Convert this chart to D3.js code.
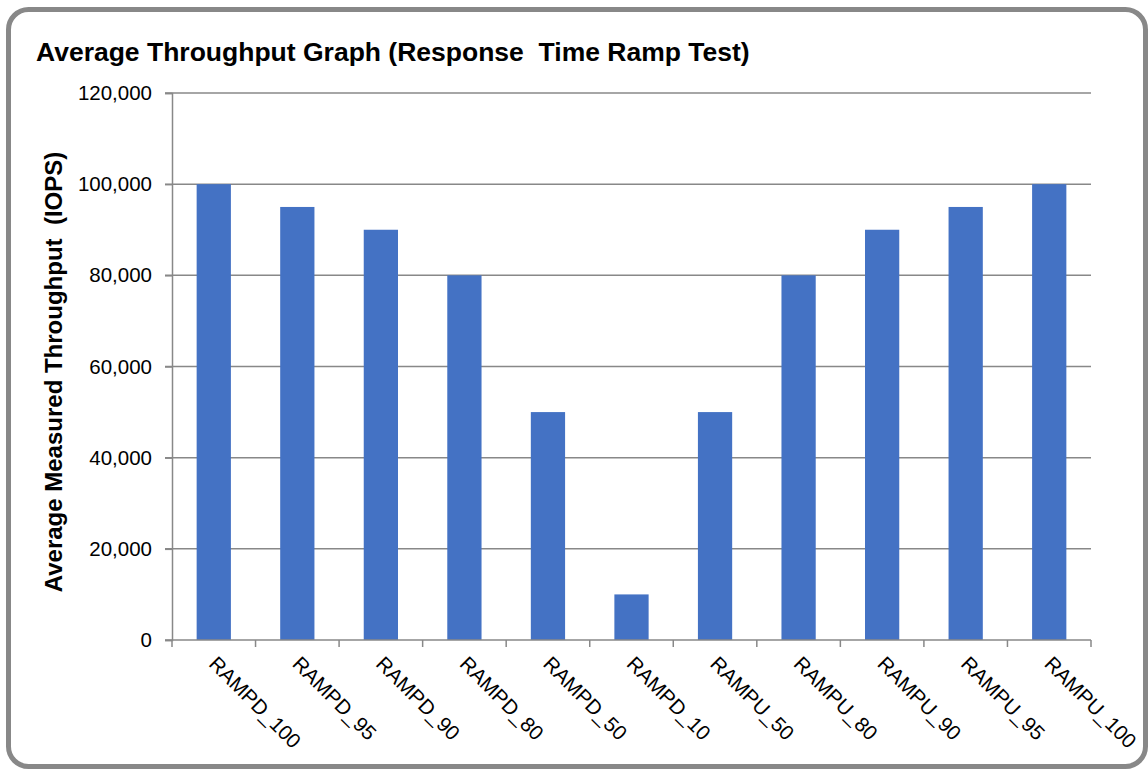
<!DOCTYPE html>
<html><head><meta charset="utf-8">
<script src="https://cdn.jsdelivr.net/npm/d3@7"></script>
<style>body{margin:0;background:#fff}svg{display:block;font-family:"Liberation Sans",Arial,sans-serif}</style>
</head><body>
<svg id="c" width="1148" height="769"></svg>
<script>
const categories = ["RAMPD_100","RAMPD_95","RAMPD_90","RAMPD_80","RAMPD_50","RAMPD_10","RAMPU_50","RAMPU_80","RAMPU_90","RAMPU_95","RAMPU_100"];
const throughput = [100000,95000,90000,80000,50000,10000,50000,80000,90000,95000,100000];
const yTicks = [0,20000,40000,60000,80000,100000,120000];
const title = "Average Throughput Graph (Response  Time Ramp Test)";
const yTitle = "Average Measured Throughput  (IOPS)";

const svg = d3.select("#c");
const m = {left:172, right:1091, top:93, bottom:640};

svg.append("rect").attr("x",8.5).attr("y",9.5).attr("width",1137).attr("height",757)
  .attr("rx",20).attr("fill","#fff").attr("stroke","#888").attr("stroke-width",5);

svg.append("text").attr("x",36).attr("y",61).attr("font-size",26.5).attr("font-weight","bold")
  .attr("fill","#000").style("white-space","pre").text(title);

const x = d3.scaleBand().domain(categories).range([m.left,m.right]).paddingInner(0.59).paddingOuter(0.295);
const y = d3.scaleLinear().domain([0,120000]).range([m.bottom,m.top]);

// gridlines
svg.append("g").selectAll("line").data(yTicks.filter(d=>d>0)).join("line")
  .attr("x1",m.left-7).attr("x2",m.right).attr("y1",d=>y(d)).attr("y2",d=>y(d))
  .attr("stroke","#888").attr("stroke-width",1.5);

// bars
svg.append("g").selectAll("rect").data(categories).join("rect")
  .attr("x",d=>x(d)).attr("width",x.bandwidth())
  .attr("y",(d,i)=>y(throughput[i])).attr("height",(d,i)=>y(0)-y(throughput[i]))
  .attr("fill","#4472C4");

// y axis
const ya = svg.append("g").attr("transform",`translate(${m.left},0)`)
  .call(d3.axisLeft(y).tickValues(yTicks).tickSize(7).tickPadding(13).tickFormat(d3.format(",")));
ya.select(".domain").attr("stroke","#888").attr("stroke-width",1.5);
ya.selectAll(".tick line").attr("stroke","#888").attr("stroke-width",1.5);
ya.selectAll("text").attr("font-size",20.5).attr("fill","#000").attr("font-family","Liberation Sans, Arial, sans-serif");

// x axis
const bounds = d3.range(categories.length+1).map(i=>m.left + i*(m.right-m.left)/categories.length);
const xa = svg.append("g");
xa.append("line").attr("x1",m.left-7).attr("x2",m.right).attr("y1",m.bottom).attr("y2",m.bottom)
  .attr("stroke","#888").attr("stroke-width",1.5);
xa.selectAll("line.t").data(bounds).join("line").attr("class","t")
  .attr("x1",d=>d).attr("x2",d=>d).attr("y1",m.bottom).attr("y2",m.bottom+7)
  .attr("stroke","#888").attr("stroke-width",1.5);
xa.selectAll("text").data(categories).join("text")
  .attr("transform",d=>`translate(${x(d)+x.bandwidth()/2-6},${m.bottom+25}) rotate(45)`)
  .attr("font-size",20.5).attr("fill","#000").text(d=>d);

// y title
svg.append("text").attr("transform",`translate(62,372) rotate(-90)`)
  .attr("text-anchor","middle").attr("font-size",24).attr("font-weight","bold")
  .style("white-space","pre").text(yTitle);
</script>
</body></html>
